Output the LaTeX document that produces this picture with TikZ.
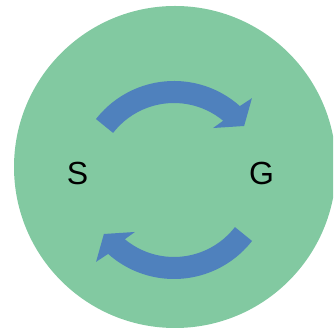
\documentclass[tikz,border=0pt]{standalone}
\usepackage{fontspec}
\setmainfont{Liberation Sans}
\definecolor{disc}{RGB}{130,201,161}
\definecolor{arrowblue}{RGB}{79,129,189}
\tikzset{
  letter/.style={font=\fontsize{32}{38}\selectfont, inner sep=0pt, anchor=base},
  % one curved block arrow, bent round the origin, running clockwise
  cyclearrow/.pic={
    \fill[arrowblue] (142:99pt) arc[start angle=142, end angle=48.3, radius=99pt]
      -- (46.4:113pt) -- (37.6:88.5pt) -- (53.1:65pt) -- (50.3:77pt)
      arc[start angle=50.3, end angle=142.3, radius=77pt] -- cycle;
  }
}
\begin{document}
\begin{tikzpicture}[x=1pt,y=1pt]
  \useasboundingbox (0,0) rectangle (333,336);
  \clip (0,0) rectangle (333,336);
  % green disc
  \fill[disc] (175,169) circle[radius=161pt];
  % centre of the two arrows
  \coordinate (c) at (174,156);
  \pic (upper) at (c) {cyclearrow};
  \pic[rotate=180] (lower) at (c) {cyclearrow};
  % labels
  \node[letter] (s) at (77.5,151) {S};
  \node[letter] (g) at (261.5,151) {G};
\end{tikzpicture}
\end{document}
